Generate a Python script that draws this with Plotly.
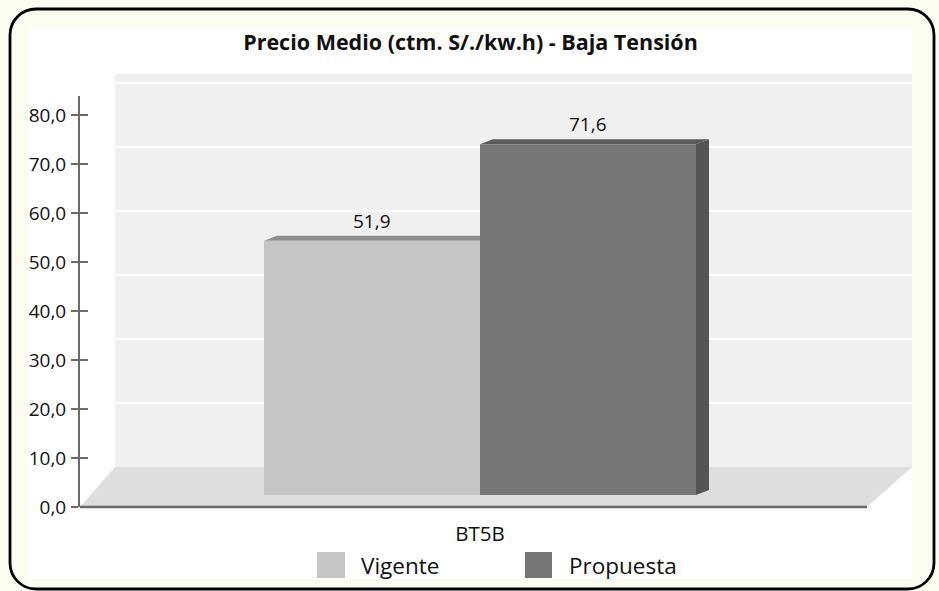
import plotly.graph_objects as go

# ---------------- data ----------------
categories = ["BT5B"]
series_names = ["Vigente", "Propuesta"]
vigente = [51.9]
propuesta = [71.6]
y_tick_values = [0, 10, 20, 30, 40, 50, 60, 70, 80]
title_text = "Precio Medio (ctm. S/./kw.h) - Baja Tensión"

series_values = [vigente, propuesta]
front_colors = ["#c6c6c6", "#767676"]
top_colors = ["#8c8c8c", "#5b5b5b"]
side_colors = ["#9a9a9a", "#555555"]

# ---------------- geometry ----------------
FIG_W, FIG_H = 939, 591
ML, MR, MT, MB = 80, 59, 96, 84
PW = FIG_W - ML - MR
PH = FIG_H - MT - MB
Y_MAX = 83.88
PX_PER_UNIT = PH / Y_MAX
LIFT_PX = 12
Y2_OFF = LIFT_PX / PX_PER_UNIT
BARGAP = 0.46
BAR_W = (1 - BARGAP) / 2
DEPTH_DX = 13 / PW            # category units
DEPTH_DY = 5 / PX_PER_UNIT    # value units
FONT = "Open Sans"
TXT = "#111111"


def pxx(px):
    return (px - ML) / PW


def pxy(py):
    return (FIG_H - MB - py) / PH


def ppath(points):
    return "M " + " L ".join(f"{pxx(a):.5f},{pxy(b):.5f}" for a, b in points) + " Z"


def rounded_path(x0, y0, x1, y1, r):
    k = 0.5523 * r
    P = lambda a, b: f"{pxx(a):.5f},{pxy(b):.5f}"
    return (
        f"M {P(x0 + r, y0)} L {P(x1 - r, y0)} "
        f"C {P(x1 - r + k, y0)} {P(x1, y0 + r - k)} {P(x1, y0 + r)} "
        f"L {P(x1, y1 - r)} "
        f"C {P(x1, y1 - r + k)} {P(x1 - r + k, y1)} {P(x1 - r, y1)} "
        f"L {P(x0 + r, y1)} "
        f"C {P(x0 + r - k, y1)} {P(x0, y1 - r + k)} {P(x0, y1 - r)} "
        f"L {P(x0, y0 + r)} "
        f"C {P(x0, y0 + r - k)} {P(x0 + r - k, y0)} {P(x0 + r, y0)} Z"
    )


fig = go.Figure()

for name, vals, col in zip(series_names, series_values, front_colors):
    fig.add_trace(go.Bar(
        x=categories, y=vals, name=name, xaxis="x", yaxis="y2",
        marker=dict(color=col, line=dict(width=0)),
        showlegend=False, hoverinfo="skip",
    ))

# invisible traces so that the main axis and the inner-tick axis are drawn
for ax in ["y", "y3"]:
    fig.add_trace(go.Scatter(x=categories, y=[None], xaxis="x", yaxis=ax, showlegend=False,
                             hoverinfo="skip", mode="markers"))

shapes = []
# white panel and rounded frame
shapes.append(dict(type="rect", xref="paper", yref="paper", x0=pxx(28), x1=pxx(912),
                   y0=pxy(579), y1=pxy(27), fillcolor="white", line=dict(width=0), layer="below"))
shapes.append(dict(type="path", xref="paper", yref="paper", path=rounded_path(10, 9, 934, 589, 26),
                   line=dict(color="black", width=2.8), layer="below"))
# back wall
shapes.append(dict(type="rect", xref="paper", yref="paper", x0=pxx(115), x1=pxx(912),
                   y0=pxy(467), y1=pxy(74), fillcolor="#f0f0f0", line=dict(width=0), layer="below"))
for i in range(1, 7):
    yy = 467 - 64 * i
    shapes.append(dict(type="line", xref="paper", yref="paper", x0=pxx(115), x1=pxx(912),
                       y0=pxy(yy), y1=pxy(yy), line=dict(color="white", width=1.5), layer="below"))
# floor
shapes.append(dict(type="path", xref="paper", yref="paper",
                   path=ppath([(80, 507), (867, 507), (912, 467), (115, 467)]),
                   fillcolor="#dedede", line=dict(width=0), layer="below"))
shapes.append(dict(type="line", xref="paper", yref="paper", x0=pxx(80), x1=pxx(867),
                   y0=pxy(507), y1=pxy(507), line=dict(color="#6a6a6a", width=2.5), layer="below"))

# 3D faces of bars, derived from data values
for si, vals in enumerate(series_values):
    for ci, v in enumerate(vals):
        x0 = ci - BAR_W + si * BAR_W
        x1 = x0 + BAR_W
        top = f"M {x0},{v} L {x0 + DEPTH_DX},{v + DEPTH_DY} L {x1 + DEPTH_DX},{v + DEPTH_DY} L {x1},{v} Z"
        side = f"M {x1},0 L {x1 + DEPTH_DX},{DEPTH_DY} L {x1 + DEPTH_DX},{v + DEPTH_DY} L {x1},{v} Z"
        shapes.append(dict(type="path", xref="x", yref="y2", path=side,
                           fillcolor=side_colors[si], line=dict(width=0), layer="below"))
        shapes.append(dict(type="path", xref="x", yref="y2", path=top,
                           fillcolor=top_colors[si], line=dict(width=0), layer="below"))

# legend (large swatches)
legend_items = [(317, 345, 359), (525, 552, 567)]
annotations = []
for (sx0, sx1, tx), name, col in zip(legend_items, series_names, front_colors):
    shapes.append(dict(type="rect", xref="paper", yref="paper", x0=pxx(sx0), x1=pxx(sx1),
                       y0=pxy(578), y1=pxy(552), fillcolor=col, line=dict(width=0), layer="above"))
    annotations.append(dict(xref="paper", yref="paper", x=pxx(tx), y=pxy(565), xanchor="left",
                            yanchor="middle", text=name, showarrow=False,
                            font=dict(family=FONT, size=22.5, color=TXT)))

# value labels
for si, vals in enumerate(series_values):
    for ci, v in enumerate(vals):
        xc = ci - BAR_W / 2 + si * BAR_W
        annotations.append(dict(xref="x", yref="y2", x=xc, y=v, xanchor="center", yanchor="bottom",
                                yshift=5, text=f"{v:.1f}".replace(".", ","), showarrow=False,
                                font=dict(family=FONT, size=19, color=TXT)))

fig.update_layout(
    width=FIG_W, height=FIG_H,
    margin=dict(l=ML, r=MR, t=MT, b=MB, pad=0),
    paper_bgcolor="#fdfcf1", plot_bgcolor="rgba(0,0,0,0)",
    separators=",.",
    barmode="group", bargap=BARGAP, bargroupgap=0,
    title=dict(text=title_text, x=pxx(470.5), xanchor="center", xref="paper",
               y=1 - 42 / FIG_H, yref="container", yanchor="middle",
               font=dict(family=FONT, size=21.5, color=TXT, weight=700)),
    xaxis=dict(type="category", range=[-0.5, 0.5], showgrid=False, zeroline=False, showline=False,
               ticks="", ticklabelstandoff=12, tickfont=dict(family=FONT, size=20.5, color=TXT),
               fixedrange=True),
    yaxis=dict(range=[0, Y_MAX], tickvals=y_tick_values, tickformat=".1f", showgrid=False,
               zeroline=False, showline=True, linecolor="#6a6a6a", linewidth=2,
               ticks="outside", ticklen=7, tickwidth=1.5, tickcolor="#6a6a6a",
               ticklabelstandoff=1, tickfont=dict(family=FONT, size=19, color=TXT)),
    yaxis2=dict(range=[-Y2_OFF, Y_MAX - Y2_OFF], overlaying="y", visible=False),
    yaxis3=dict(range=[0, Y_MAX], overlaying="y", tickvals=y_tick_values, showticklabels=False,
                showgrid=False, zeroline=False, showline=False, ticks="inside", ticklen=8,
                tickwidth=1.5, tickcolor="#6a6a6a", side="left"),
    shapes=shapes, annotations=annotations,
)

fig.write_html("out.html", config={"displayModeBar": False},
               post_script="document.body.style.margin='0';")
